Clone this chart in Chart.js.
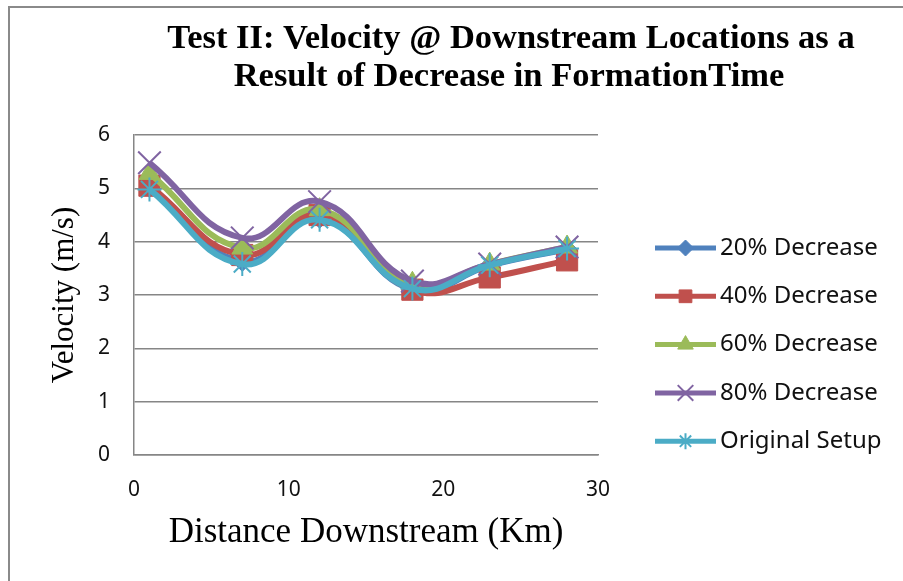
<!DOCTYPE html>
<html>
<head>
<meta charset="utf-8">
<script src="https://cdn.jsdelivr.net/npm/chart.js@4.4.1/dist/chart.umd.min.js"></script>
<style>
  html, body { margin: 0; padding: 0; background: #fff; }
  #wrap { position: relative; width: 903px; height: 581px; overflow: hidden; }
  #frame { position: absolute; left: 8px; top: 6px; width: 1000px; height: 700px;
           border-left: 2px solid #8a8a8a; border-top: 2px solid #8a8a8a; }
  #velocityChart { position: absolute; left: 0; top: 0; }
</style>
</head>
<body>
<div id="wrap">
  <div id="frame"></div>
  <canvas id="velocityChart" width="903" height="581"></canvas>
</div>
<script>
// data
const distanceKm = [1, 7, 12, 18, 23, 28];
const decrease20 = [5.02, 3.63, 4.44, 3.10, 3.55, 3.86];
const decrease40 = [5.05, 3.75, 4.50, 3.10, 3.33, 3.65];
const decrease60 = [5.28, 3.88, 4.60, 3.22, 3.58, 3.90];
const decrease80 = [5.48, 4.07, 4.75, 3.26, 3.58, 3.90];
const originalSetup = [4.98, 3.58, 4.41, 3.12, 3.56, 3.87];
const seriesLabels = ["20% Decrease", "40% Decrease", "60% Decrease", "80% Decrease", "Original Setup"];
const yTicks = [0, 1, 2, 3, 4, 5, 6];
const xTicks = [0, 10, 20, 30];
const titleLines = ["Test II: Velocity @ Downstream Locations as a", "Result of Decrease in FormationTime"];
const yTitle = "Velocity (m/s)";
const xTitle = "Distance Downstream (Km)";

// look of each series (office palette)
const seriesStyles = [
    { color: "#4F81BD", pointStyle: "rectRot", radius: 10, legendRadius: 8, border: 1 },
    { color: "#C0504D", pointStyle: "rect", radius: 15, legendRadius: 9, border: 1 },
    { color: "#9BBB59", pointStyle: "triangle", radius: 12, legendRadius: 9, border: 1 },
    { color: "#8064A2", pointStyle: "crossRot", radius: 16, legendRadius: 11, border: 2 },
    { color: "#4BACC6", pointStyle: "star", radius: 12, legendRadius: 8, border: 2 },
];

const gridColor = "#868686";
const tickFont = { family: "'Noto Sans', 'Liberation Sans', sans-serif", size: 21 };

function makeDataset(values, i) {
    const st = seriesStyles[i];
    return {
        label: seriesLabels[i],
        data: values.map((v, k) => ({ x: distanceKm[k], y: v })),
        borderColor: st.color,
        backgroundColor: st.color,
        borderWidth: 6,
        tension: 0.45,
        pointStyle: st.pointStyle,
        pointRadius: st.radius,
        pointBackgroundColor: st.color,
        pointBorderColor: st.color,
        pointBorderWidth: st.border,
        order: seriesLabels.length - i,
    };
}

// legend (line + marker) and title, drawn next to the plot
const sideLegend = {
    id: "sideLegend",
    afterDraw(chart) {
        const ctx = chart.ctx;
        ctx.save();
        chart.data.datasets.forEach((ds, i) => {
            const st = seriesStyles[i];
            const y = 248 + i * 48.3;
            ctx.strokeStyle = st.color;
            ctx.lineWidth = 5;
            ctx.beginPath();
            ctx.moveTo(655, y);
            ctx.lineTo(716, y);
            ctx.stroke();
            ctx.fillStyle = st.color;
            ctx.lineWidth = st.border;
            Chart.helpers.drawPoint(ctx, {
                pointStyle: st.pointStyle,
                radius: st.legendRadius,
                rotation: 0,
                borderWidth: st.border,
            }, 685.5, y);
            ctx.fillStyle = "#111";
            ctx.font = "24px 'Noto Sans', 'Liberation Sans', sans-serif";
            ctx.textAlign = "left";
            ctx.textBaseline = "middle";
            ctx.fillText(ds.label, 720, y);
        });
        ctx.fillStyle = "#000";
        ctx.font = "bold 34.5px 'Liberation Serif', serif";
        ctx.textAlign = "center";
        ctx.textBaseline = "alphabetic";
        ctx.fillText(titleLines[0], 511, 48);
        ctx.fillText(titleLines[1], 509, 86);
        ctx.restore();
    },
};

const ctx = document.getElementById("velocityChart").getContext("2d");
const velocityChart = new Chart(ctx, {
    type: "line",
    data: {
        datasets: [decrease20, decrease40, decrease60, decrease80, originalSetup].map(makeDataset),
    },
    options: {
        responsive: false,
        animation: false,
        devicePixelRatio: 1,
        layout: { padding: { top: 135, right: 305, bottom: 0, left: 0 } },
        plugins: {
            legend: { display: false },
            title: { display: false },
            tooltip: { enabled: false },
        },
        scales: {
            x: {
                type: "linear",
                min: 0,
                max: 30,
                afterFit: (s) => { s.height = 126; },
                afterBuildTicks: (s) => { s.ticks = xTicks.map((v) => ({ value: v })); },
                grid: { display: false, drawTicks: false },
                border: { display: true, color: gridColor, width: 1.5 },
                ticks: { color: "#111", font: tickFont, padding: 22, maxRotation: 0 },
                title: {
                    display: true,
                    text: xTitle,
                    color: "#000",
                    font: { family: "'Liberation Serif', serif", size: 35 },
                    padding: { top: 0, bottom: 27 },
                },
            },
            y: {
                min: 0,
                max: 6,
                afterFit: (s) => { s.width = 134; },
                afterBuildTicks: (s) => { s.ticks = yTicks.map((v) => ({ value: v })); },
                grid: { color: gridColor, lineWidth: 1.5, drawTicks: false },
                border: { display: true, color: gridColor, width: 1.5 },
                ticks: { color: "#111", font: tickFont, padding: 24 },
                title: {
                    display: true,
                    text: yTitle,
                    color: "#000",
                    font: { family: "'Liberation Serif', serif", size: 31 },
                    padding: { top: 46, bottom: 0 },
                },
            },
        },
    },
    plugins: [sideLegend],
});
</script>
</body>
</html>
